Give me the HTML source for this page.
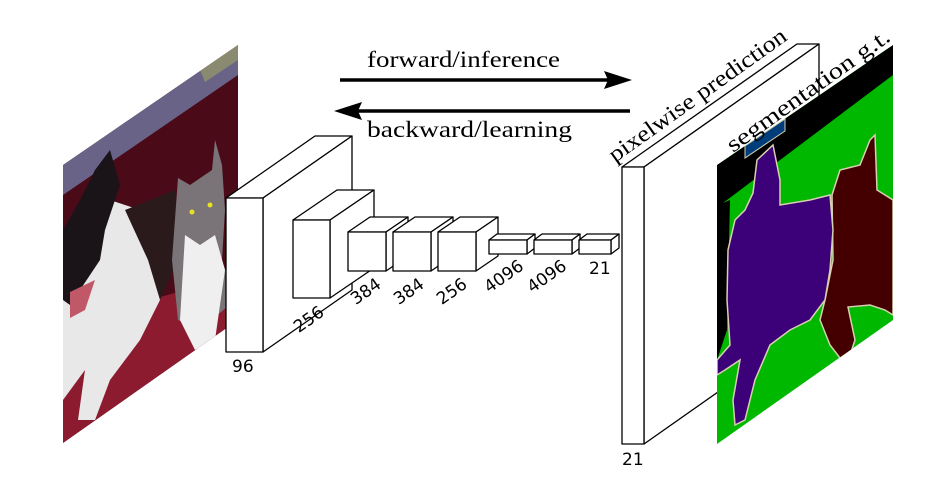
<!DOCTYPE html>
<html><head><meta charset="utf-8"><style>
html,body{margin:0;padding:0;background:#fff;}
svg{display:block}
.n{font-family:"DejaVu Sans","Liberation Sans",sans-serif;font-size:17px;fill:#000}
.s{font-family:"Liberation Serif",serif;font-size:23px;fill:#000}
</style></head><body>
<svg width="948" height="478" viewBox="0 0 948 478" xmlns="http://www.w3.org/2000/svg">
<defs>
<clipPath id="pc"><polygon points="63,165 238,45 238,320 63,443"/></clipPath>
<clipPath id="sc"><polygon points="717,165 893,45 893,320 717,444"/></clipPath>
</defs>
<!-- photo -->
<g clip-path="url(#pc)">
  <rect x="60" y="40" width="180" height="410" fill="#4a0a18"/>
  <polygon points="63,165 238,45 238,75 63,195" fill="#6a6388"/>
  <polygon points="200,70 238,45 238,60 205,82" fill="#8a8a70"/>
  <polygon points="63,330 150,300 238,275 238,320 63,443" fill="#8c1b30"/>
  <polygon points="80,230 110,200 140,210 165,240 160,300 140,340 110,380 95,420 78,420 85,370 63,400 63,300" fill="#e8e8e8"/>
  <polygon points="63,230 80,200 95,170 110,150 120,185 105,230 100,260 80,290 70,305 63,300" fill="#1a1418"/>
  <polygon points="125,210 175,190 178,260 160,300 148,260" fill="#2a1a1c"/>
  <polygon points="70,292 95,280 85,310 70,318" fill="#c05868"/>
  <polygon points="178,178 190,185 212,170 215,140 222,165 225,210 222,260 235,300 200,330 178,320 172,260" fill="#7a7478"/>
  <polygon points="185,235 200,245 215,235 225,270 215,340 195,350 180,320" fill="#efefef"/>
  <circle cx="192" cy="212" r="2.5" fill="#e8e020"/>
  <circle cx="210" cy="205" r="2.5" fill="#e8e020"/>
</g>
<!-- arrows -->
<line x1="340" y1="80" x2="612" y2="80" stroke="#000" stroke-width="3.5"/>
<polygon points="632,80 604,71 608,80 604,89" fill="#000"/>
<line x1="355" y1="111" x2="630" y2="111" stroke="#000" stroke-width="3.5"/>
<polygon points="334,111 362,102 358,111 362,120" fill="#000"/>
<text class="s" x="367" y="67" textLength="193" lengthAdjust="spacingAndGlyphs">forward/inference</text>
<text class="s" x="367" y="137" textLength="205" lengthAdjust="spacingAndGlyphs">backward/learning</text>
<g fill="#fff" stroke="#000" stroke-width="1.3" stroke-linejoin="round">
<polygon points="226,198 263,198 352,136 315,136"/>
<polygon points="263,198 352,136 352,290 263,352"/>
<rect x="226" y="198" width="37" height="154"/>
<polygon points="293,220 330,220 374,190 337,190"/>
<polygon points="330,220 374,190 374,268 330,298"/>
<rect x="293" y="220" width="37" height="78"/>
<polygon points="348,232 386,232 408,217 370,217"/>
<polygon points="386,232 408,217 408,256 386,271"/>
<rect x="348" y="232" width="38" height="39"/>
<polygon points="393,232 431,232 453,217 415,217"/>
<polygon points="431,232 453,217 453,256 431,271"/>
<rect x="393" y="232" width="38" height="39"/>
<polygon points="438,232 476,232 498,217 460,217"/>
<polygon points="476,232 498,217 498,256 476,271"/>
<rect x="438" y="232" width="38" height="39"/>
<polygon points="489,240 527,240 535,234 497,234"/>
<polygon points="527,240 535,234 535,248 527,254"/>
<rect x="489" y="240" width="38" height="14"/>
<polygon points="534,240 572,240 580,234 542,234"/>
<polygon points="572,240 580,234 580,248 572,254"/>
<rect x="534" y="240" width="38" height="14"/>
<polygon points="579,240 611,240 619,234 587,234"/>
<polygon points="611,240 619,234 619,248 611,254"/>
<rect x="579" y="240" width="32" height="14"/>
<polygon points="622,167 644,167 819,44 797,44"/>
<polygon points="644,167 819,44 819,321 644,444"/>
<rect x="622" y="167" width="22" height="277"/>
</g>
<!-- seg -->
<g clip-path="url(#sc)">
  <rect x="715" y="40" width="180" height="410" fill="#00b800"/>
  <polygon points="717,165 893,45 893,75 723,203 730,200 727,330 717,360" fill="#000"/>
  <polygon points="832,195 840,170 860,165 870,140 875,135 877,190 893,200 893,315 885,310 870,305 848,307 855,340 850,355 840,358 830,345 820,320 825,300 833,260" fill="#440000" stroke="#d8d0b0" stroke-width="1.5"/>
  <polygon points="753,193 757,160 773,145 780,180 780,205 810,200 830,195 833,230 830,270 825,300 810,320 790,330 770,345 755,380 745,420 735,425 733,400 740,360 725,370 717,375 717,360 730,345 727,300 728,250 735,220 745,210" fill="#3c0078" stroke="#d8d0b0" stroke-width="1.5"/>
  <polygon points="745,146 785,119 785,131 745,158" fill="#003d7a" stroke="#d8d0b0" stroke-width="1"/>
</g>
<!-- labels -->
<text class="n" x="232" y="372">96</text>
<text class="n" x="622" y="465">21</text>
<text class="n" x="589" y="274">21</text>
<g text-anchor="middle">
<text class="n" transform="translate(312,324) rotate(-35)">256</text>
<text class="n" transform="translate(369,296) rotate(-35)">384</text>
<text class="n" transform="translate(412,296) rotate(-35)">384</text>
<text class="n" transform="translate(455,296) rotate(-35)">256</text>
<text class="n" transform="translate(507,281) rotate(-35)">4096</text>
<text class="n" transform="translate(550,281) rotate(-35)">4096</text>
</g>
<text class="s" transform="translate(615,163) rotate(-35.5)" textLength="213" lengthAdjust="spacingAndGlyphs">pixelwise prediction</text>
<text class="s" transform="translate(733,153) rotate(-35.5)" textLength="195" lengthAdjust="spacingAndGlyphs">segmentation g.t.</text>
</svg>
</body></html>
